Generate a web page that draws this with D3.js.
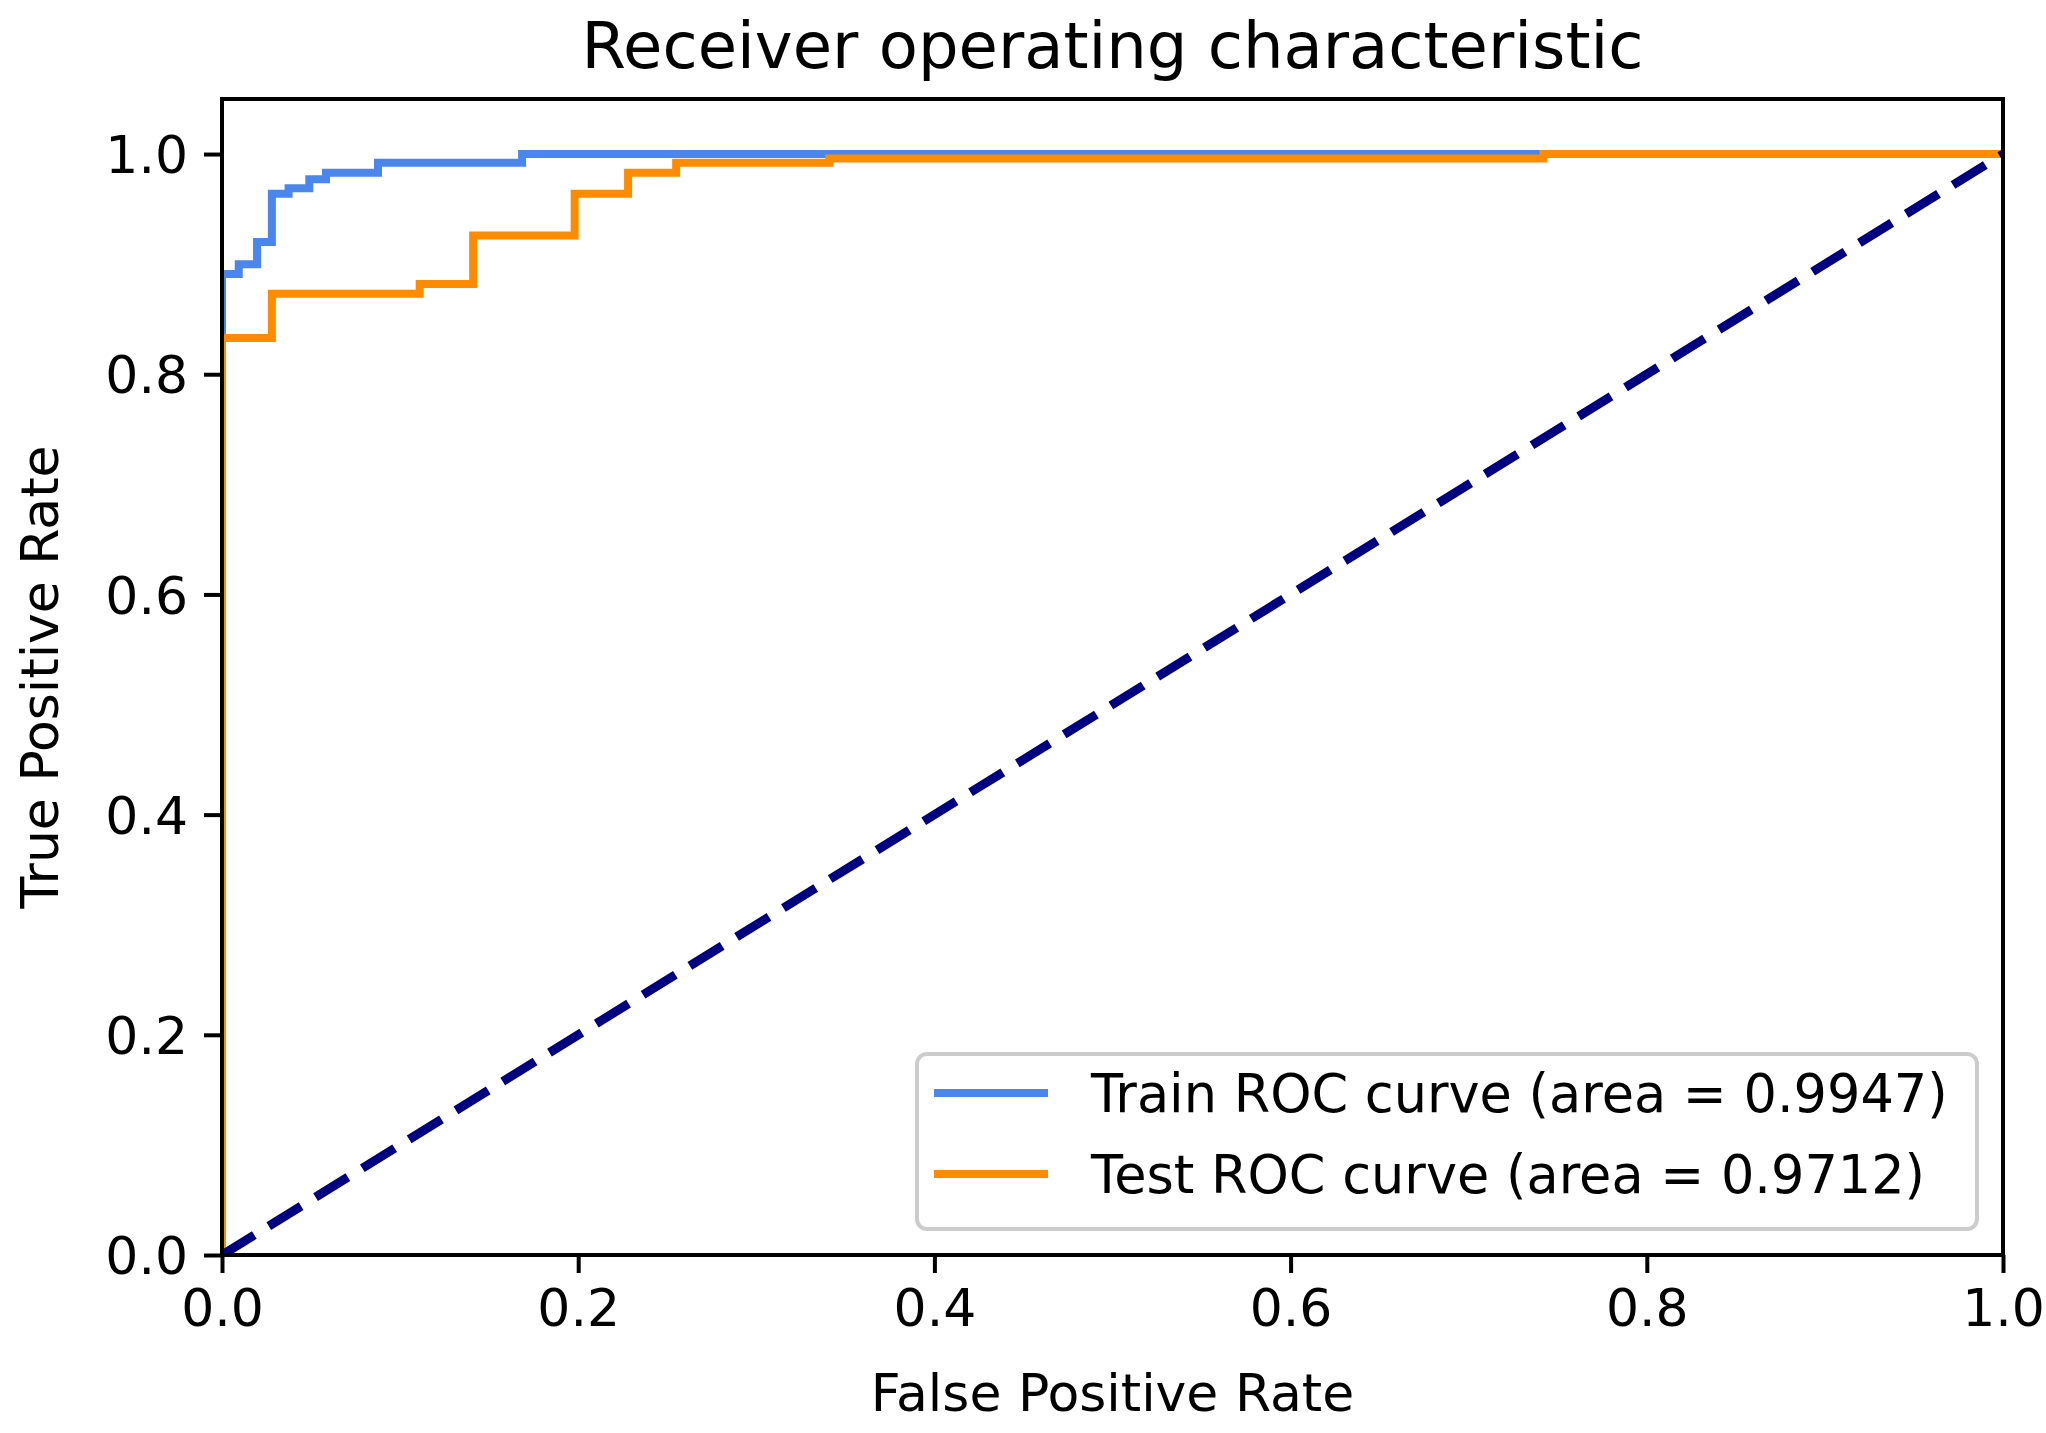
<!DOCTYPE html>
<html>
<head>
<meta charset="utf-8">
<script src="https://cdn.jsdelivr.net/npm/d3@7"></script>
<style>
  body { margin: 0; background: #fff; }
  text { font-family: "DejaVu Sans", sans-serif; fill: #000; }
</style>
</head>
<body>
<div id="chart-area"></div>
<script>
// values
var trainFpr = [0, 0, 0.0094, 0.0094, 0.0197, 0.0197, 0.028, 0.028, 0.0374, 0.0374, 0.049, 0.049, 0.0584, 0.0584, 0.0876, 0.0876, 0.1685, 0.1685, 1];
var trainTpr = [0, 0.891, 0.891, 0.9, 0.9, 0.92, 0.92, 0.964, 0.964, 0.969, 0.969, 0.977, 0.977, 0.983, 0.983, 0.992, 0.992, 1, 1];

var testFpr = [0, 0, 0.028, 0.028, 0.111, 0.111, 0.141, 0.141, 0.198, 0.198, 0.228, 0.228, 0.255, 0.255, 0.341, 0.341, 0.742, 0.742, 1];
var testTpr = [0, 0.833, 0.833, 0.873, 0.873, 0.882, 0.882, 0.926, 0.926, 0.964, 0.964, 0.983, 0.983, 0.992, 0.992, 0.996, 0.996, 1, 1];

var chanceFpr = [0, 1];
var chanceTpr = [0, 1];

var tickValues = [0, 0.2, 0.4, 0.6, 0.8, 1.0];
var seriesNames = ["Train ROC curve (area = 0.9947)", "Test ROC curve (area = 0.9712)"];
var seriesColors = ["#4a86ec", "#ff8c00"];

var margin = {left: 222, right: 43, top: 99, bottom: 178};
var width = 2046 - margin.left - margin.right,
    height = 1433 - margin.top - margin.bottom;

var svg = d3.select("#chart-area").append("svg")
    .attr("width", 2046)
    .attr("height", 1433);

svg.append("rect")
    .attr("width", 2046)
    .attr("height", 1433)
    .attr("fill", "#fff");

var g = svg.append("g")
    .attr("transform", "translate(" + margin.left + ", " + margin.top + ")");

var x = d3.scaleLinear().domain([0, 1]).range([0, width]);
var y = d3.scaleLinear().domain([0, 1.05]).range([height, 0]);

g.append("clipPath")
    .attr("id", "plot-clip")
    .append("rect")
    .attr("width", width)
    .attr("height", height);

// axes
var xAxis = g.append("g")
    .attr("transform", "translate(0," + height + ")")
    .call(d3.axisBottom(x).tickValues(tickValues).tickFormat(d3.format(".1f"))
        .tickSize(18).tickSizeOuter(0).tickPadding(16));

var yAxis = g.append("g")
    .call(d3.axisLeft(y).tickValues(tickValues).tickFormat(d3.format(".1f"))
        .tickSize(18).tickSizeOuter(0).tickPadding(16));

[xAxis, yAxis].forEach(function (a) {
    a.select(".domain").remove();
    a.selectAll("line").attr("stroke", "#000").attr("stroke-width", 4);
    a.selectAll("text")
        .attr("font-size", "52px")
        .attr("font-family", "DejaVu Sans")
        .attr("fill", "#000");
});
yAxis.selectAll("text").attr("dy", "0.36em");

var line = d3.line()
    .x(function (d) { return x(d[0]); })
    .y(function (d) { return y(d[1]); });

var plot = g.append("g").attr("clip-path", "url(#plot-clip)");

plot.append("path")
    .datum(d3.zip(trainFpr, trainTpr))
    .attr("fill", "none")
    .attr("stroke", seriesColors[0])
    .attr("stroke-width", 8)
    .attr("d", line);

plot.append("path")
    .datum(d3.zip(testFpr, testTpr))
    .attr("fill", "none")
    .attr("stroke", seriesColors[1])
    .attr("stroke-width", 8)
    .attr("d", line);

plot.append("path")
    .datum(d3.zip(chanceFpr, chanceTpr))
    .attr("fill", "none")
    .attr("stroke", "navy")
    .attr("stroke-width", 9)
    .attr("stroke-dasharray", "38,17")
    .attr("d", line);

// frame
g.append("rect")
    .attr("width", width)
    .attr("height", height)
    .attr("fill", "none")
    .attr("stroke", "#000")
    .attr("stroke-width", 4);

// legend
var legend = g.append("g")
    .attr("transform", "translate(" + (width - 26 - 1060) + "," + (height - 26 - 175) + ")");

legend.append("rect")
    .attr("width", 1060)
    .attr("height", 175)
    .attr("rx", 10)
    .attr("fill", "#fff")
    .attr("fill-opacity", 0.8)
    .attr("stroke", "#cccccc")
    .attr("stroke-width", 4);

seriesNames.forEach(function (name, i) {
    var row = legend.append("g")
        .attr("transform", "translate(0," + (39 + i * 81) + ")");
    row.append("line")
        .attr("x1", 17).attr("x2", 131)
        .attr("stroke", seriesColors[i])
        .attr("stroke-width", 8);
    row.append("text")
        .attr("x", 174)
        .attr("dy", "0.36em")
        .attr("font-size", "52.5px")
        .text(name);
});

// labels
g.append("text")
    .attr("x", width / 2)
    .attr("y", -31)
    .attr("font-size", "64px")
    .attr("text-anchor", "middle")
    .text("Receiver operating characteristic");

g.append("text")
    .attr("x", width / 2)
    .attr("y", height + 156)
    .attr("font-size", "52px")
    .attr("text-anchor", "middle")
    .text("False Positive Rate");

g.append("text")
    .attr("transform", "rotate(-90)")
    .attr("x", -height / 2)
    .attr("y", 58 - margin.left)
    .attr("font-size", "52px")
    .attr("text-anchor", "middle")
    .text("True Positive Rate");
</script>
</body>
</html>
